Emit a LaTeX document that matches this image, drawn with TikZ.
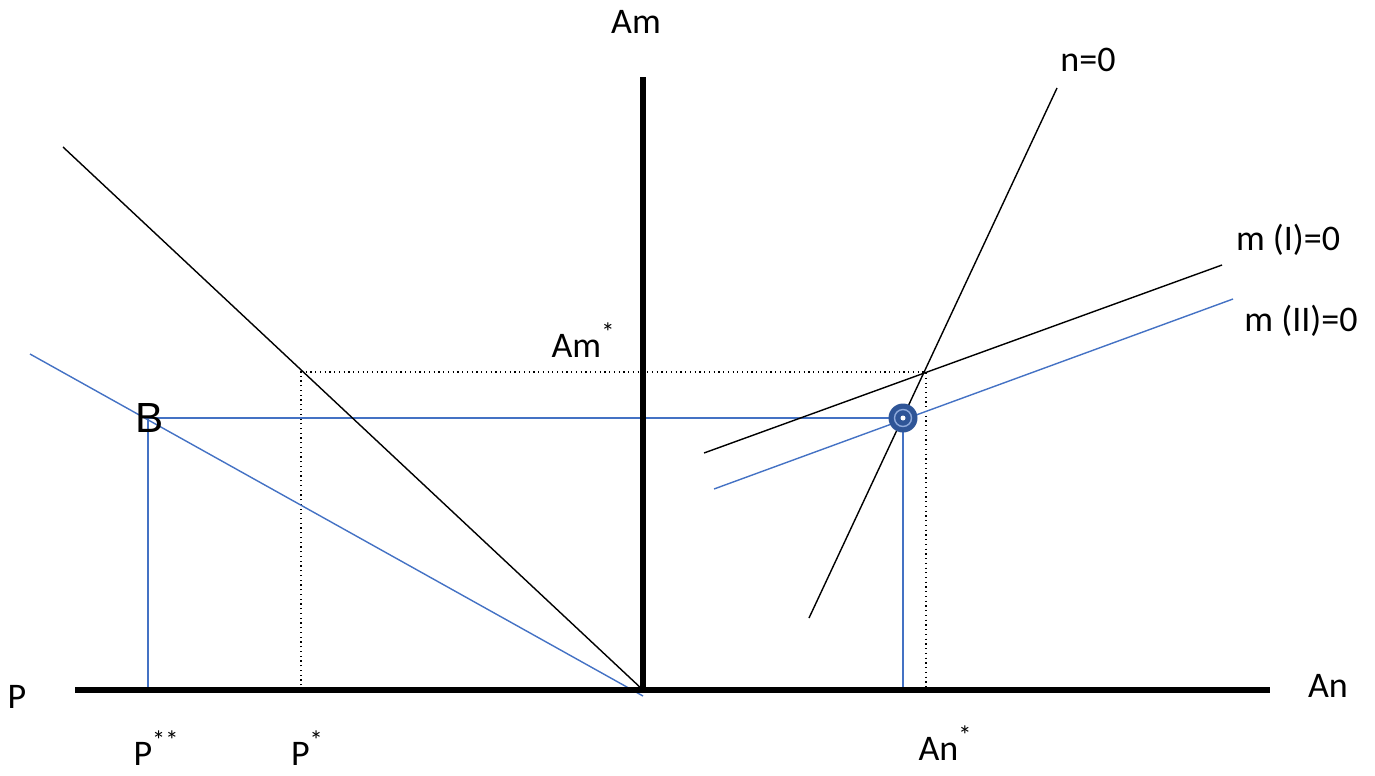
\documentclass[tikz,border=0pt]{standalone}
\usepackage{fontspec}
\setmainfont{Carlito}
\newfontfamily\arialfont{Liberation Sans}
\newcommand{\mystar}{\raisebox{0.45em}{\fontsize{15}{15}\selectfont *}}
\newcommand{\mystars}{\raisebox{0.45em}{\fontsize{15}{15}\selectfont **}}
\begin{document}
\begin{tikzpicture}[x=0.02cm,y=-0.02cm,
  axis/.style={line width=3pt,black},
  thin/.style={line width=0.8pt,black},
  blueline/.style={line width=0.8pt,color=bl},
  dotline/.style={line width=0.7pt,black,dotted},
  lab/.style={font=\fontsize{20.5}{24}\selectfont,inner sep=0pt}]
\definecolor{bl}{HTML}{4472C4}
\definecolor{dk}{HTML}{2F5597}
\useasboundingbox (0,0) rectangle (1375,775);
% coordinates
\coordinate (O) at (643,690);
\coordinate (xl) at (75,690);
\coordinate (xr) at (1270,690);
\coordinate (yt) at (643,77);
\coordinate (d1) at (63,147);
\coordinate (b1) at (30,354);
\coordinate (b2) at (643,696);
\coordinate (n1) at (809,618);
\coordinate (n2) at (1057,88);
\coordinate (mI1) at (704,453);
\coordinate (mI2) at (1222,265);
\coordinate (mII1) at (714,489);
\coordinate (mII2) at (1233,299);
\coordinate (s1) at (301,372);
\coordinate (s2) at (926,372);
\coordinate (s1b) at (301,690);
\coordinate (s2b) at (926,690);
\coordinate (B) at (148,418);
\coordinate (Bb) at (148,690);
\coordinate (E) at (903,418);
\coordinate (Eb) at (903,690);
% dotted
\draw[dotline] (s1b) -- (s1) -- (s2) -- (s2b);
% blue
\draw[blueline] (b1) -- (b2);
\draw[blueline] (Bb) -- (B) -- (E) -- (Eb);
\draw[blueline] (mII1) -- (mII2);
% black thin
\draw[thin] (d1) -- (O);
\draw[thin] (n1) -- (n2);
\draw[thin] (mI1) -- (mI2);
% axes
\draw[axis] (xl) -- (xr);
\draw[axis] (O) -- (yt);
% marker
\fill[dk] (E) circle[radius=14.5];
\draw[line width=0.8pt,color=bl!60!white] (E) circle[radius=8.5];
\fill[white] (E) circle[radius=2.5];
% labels
\node[lab] (lAm) at (636,22) {Am};
\node[lab] (ln) at (1088,60) {n=0};
\node[lab] (lmI) at (1288,240) {m (I)=0};
\node[lab] (lmII) at (1301,321) {m (II)=0};
\node[lab] (lAms) at (583,340) {Am\mystar};
\node[lab,font=\arialfont\fontsize{24}{26}\selectfont] (lB) at (150,418) {B};
\node[lab] (lP) at (17,697) {P};
\node[lab] (lAn) at (1328,686) {An};
\node[lab] (lPss) at (156,748) {P\mystars};
\node[lab] (lPs) at (307,748) {P\mystar};
\node[lab] (lAns) at (945,743) {An\mystar};
\end{tikzpicture}
\end{document}
